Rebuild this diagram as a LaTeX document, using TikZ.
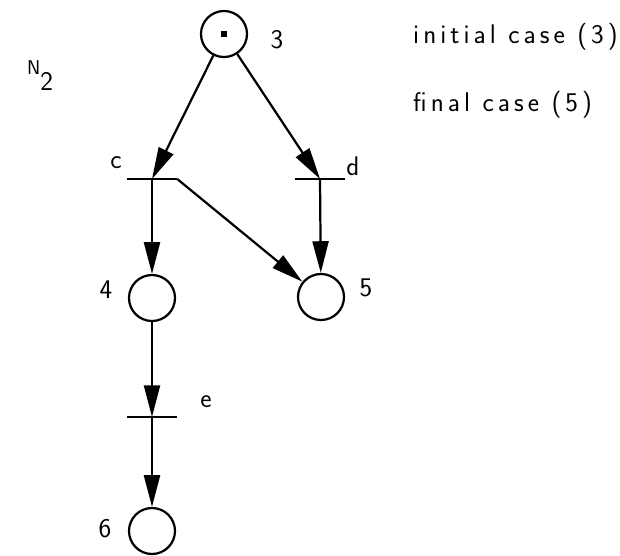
\documentclass[tikz,border=0pt]{standalone}
\usepackage{fontspec}
\setsansfont{Latin Modern Sans}[LetterSpace=15]
\usetikzlibrary{arrows.meta}
\begin{document}
\begin{tikzpicture}[x=0.03cm,y=-0.03cm,
  every node/.style={font=\sffamily\fontsize{23}{26}\selectfont},
  place/.style={circle,draw,line width=1.9pt,minimum size=1.38cm,inner sep=0pt},
  trans/.style={rectangle,fill,minimum width=1.5cm,minimum height=1.9pt,inner sep=0pt},
  arc/.style={line width=1.9pt,-{Triangle[length=0.95cm,width=0.48cm]}}]
\useasboundingbox (0,0) rectangle (620,555);
% net name
\node[anchor=base west,inner sep=0pt] (net) at (27,74) {{\fontsize{17}{17}\selectfont N}\raisebox{-0.48cm}{2}};
% places and token
\node[place] (p3) at (224,34) {};
\node[fill,minimum size=0.17cm,inner sep=0pt] (tok) at (p3.center) {};
\node[place] (p4) at (152,298) {};
\node[place] (p5) at (321,297) {};
\node[place] (p6) at (152,531) {};
% transitions
\node[trans] (c) at (152,179) {};
\node[trans] (d) at (320,179) {};
\node[trans] (e) at (152,417) {};
% labels
\node (l3) at (277,40) {3};
\node (l4) at (106,290) {4};
\node (l5) at (366,288) {5};
\node (l6) at (105,529) {6};
\node (lc) at (116,163) {c};
\node (ld) at (353,166) {d};
\node (le) at (206,402) {e};
\node[anchor=west,inner sep=0pt] (init) at (413,37) {initial case (3)};
\node[anchor=west,inner sep=0pt] (fin) at (413,105) {final case (5)};
% arcs
\draw[arc] (p3) -- (c.center);
\draw[arc] (p3) -- (d.center);
\draw[arc] (c.center) -- (p4);
\draw[arc] (c.east) -- (p5);
\draw[arc] (d.center) -- (p5);
\draw[arc] (p4) -- (e.center);
\draw[arc] (e.center) -- (p6);
\end{tikzpicture}
\end{document}
